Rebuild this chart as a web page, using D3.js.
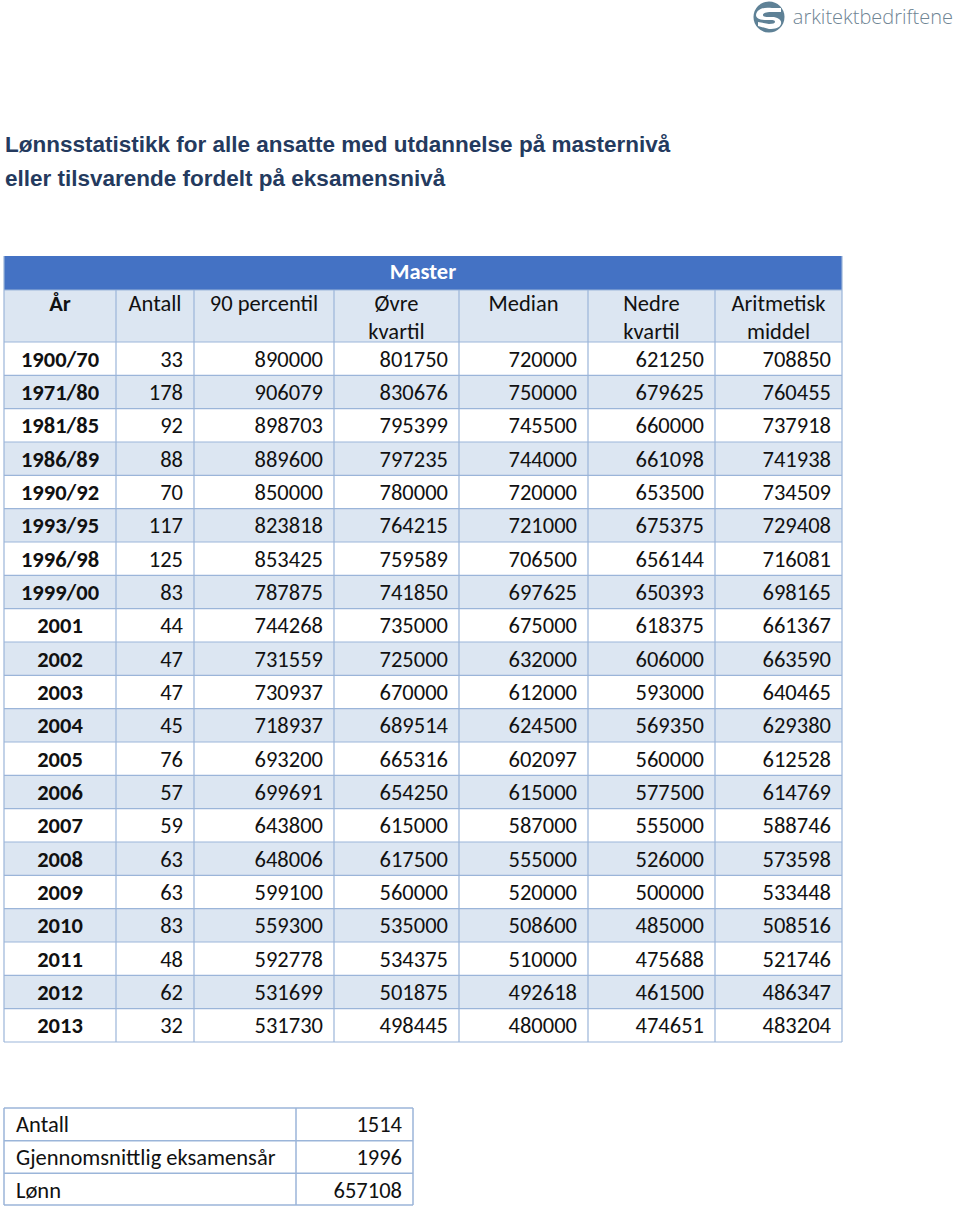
<!DOCTYPE html>
<html><head><meta charset="utf-8">
<script src="https://cdn.jsdelivr.net/npm/d3@7"></script>
<style>html,body{margin:0;padding:0;background:#fff;}svg{display:block;}</style>
</head><body>
<script>
const years = ["1900/70","1971/80","1981/85","1986/89","1990/92","1993/95","1996/98","1999/00","2001","2002","2003","2004","2005","2006","2007","2008","2009","2010","2011","2012","2013"];
const antall = [33,178,92,88,70,117,125,83,44,47,47,45,76,57,59,63,63,83,48,62,32];
const p90 = [890000,906079,898703,889600,850000,823818,853425,787875,744268,731559,730937,718937,693200,699691,643800,648006,599100,559300,592778,531699,531730];
const ovre = [801750,830676,795399,797235,780000,764215,759589,741850,735000,725000,670000,689514,665316,654250,615000,617500,560000,535000,534375,501875,498445];
const median = [720000,750000,745500,744000,720000,721000,706500,697625,675000,632000,612000,624500,602097,615000,587000,555000,520000,508600,510000,492618,480000];
const nedre = [621250,679625,660000,661098,653500,675375,656144,650393,618375,606000,593000,569350,560000,577500,555000,526000,500000,485000,475688,461500,474651];
const middel = [708850,760455,737918,741938,734509,729408,716081,698165,661367,663590,640465,629380,612528,614769,588746,573598,533448,508516,521746,486347,483204];
const headers = [["År"],["Antall"],["90 percentil"],["Øvre","kvartil"],["Median"],["Nedre","kvartil"],["Aritmetisk","middel"]];
const summaryLabels = ["Antall","Gjennomsnittlig eksamensår","Lønn"];
const summaryValues = [1514,1996,657108];

const W=960,H=1206;
const svg=d3.select("body").append("svg").attr("width",W).attr("height",H);
const border="#9bb5d9", stripe="#dce6f2", blue="#4472c4";
const FONT="Carlito, Calibri, Lato, 'Open Sans', sans-serif";
const FS=22.5;

// logo
const logo=svg.append("g").attr("transform","translate(769,17)");
logo.append("circle").attr("r",15.5).attr("fill","#5e8196");
logo.append("path").attr("d","M-13,-2 C-12,-9 -4,-10 3,-9 L12,-9 L12,-5 L2,-5 C-3,-5 -6,-4 -6,-2 C-6,0 -3,0 3,0 C9,0 13,3 12,7 C11,11 6,12 0,12 L-11,9 L-11,5 L0,7 C4,7 6,6 6,5 C6,3 4,3 -1,3 C-8,3 -13,2 -13,-2 Z").attr("fill","#fff");
svg.append("text").attr("x",953).attr("y",24).attr("text-anchor","end").attr("font-family","'Open Sans', Lato, sans-serif").attr("font-weight",300)
  .attr("font-size",20).attr("fill","#6f8594").text("arkitektbedriftene");

// title
const title=svg.append("g").attr("font-family","'Liberation Sans', Arial, sans-serif").attr("font-weight","bold").attr("font-size",22.5).attr("fill","#243a5e");
title.append("text").attr("x",5).attr("y",152).text("Lønnsstatistikk for alle ansatte med utdannelse på masternivå");
title.append("text").attr("x",5).attr("y",186).text("eller tilsvarende fordelt på eksamensnivå");

// main table
const colEdges=[4,116,194,334,459,588,715,842];
const x0=colEdges[0], x1=colEdges[colEdges.length-1];
const y=d3.scaleBand().domain(d3.range(years.length)).range([342,1042]);
const rows=years.map((yr,i)=>[yr,antall[i],p90[i],ovre[i],median[i],nedre[i],middel[i]]);

svg.append("rect").attr("x",x0).attr("y",256).attr("width",x1-x0).attr("height",34).attr("fill",blue);
svg.append("text").attr("x",(x0+x1)/2).attr("y",279).attr("text-anchor","middle").attr("font-family",FONT)
  .attr("font-weight","bold").attr("font-size",FS).attr("fill","#fff").text("Master");
svg.append("rect").attr("x",x0).attr("y",290).attr("width",x1-x0).attr("height",52).attr("fill",stripe);

const rowG=svg.selectAll("g.row").data(rows).join("g").attr("class","row");
rowG.append("rect").attr("x",x0).attr("y",(d,i)=>y(i)).attr("width",x1-x0).attr("height",y.bandwidth())
  .attr("fill",(d,i)=>i%2? stripe:"#fff");

// grid lines
const grid=svg.append("g").attr("stroke",border).attr("stroke-width",1.2).attr("fill","none");
colEdges.forEach(cx=>grid.append("line").attr("x1",cx).attr("x2",cx).attr("y1",290).attr("y2",1042));
[290,342].concat(d3.range(years.length).map(i=>y(i)+y.bandwidth())).forEach(ly=>
  grid.append("line").attr("x1",x0).attr("x2",x1).attr("y1",ly).attr("y2",ly));
grid.append("line").attr("x1",x0).attr("x2",x0).attr("y1",256).attr("y2",290);
grid.append("line").attr("x1",x1).attr("x2",x1).attr("y1",256).attr("y2",290);

// header text
headers.forEach((h,c)=>{
  const cx=(colEdges[c]+colEdges[c+1])/2;
  h.forEach((t,k)=>svg.append("text").attr("x",cx).attr("y",311+k*28).attr("text-anchor","middle")
    .attr("font-family",FONT).attr("font-size",FS).attr("font-weight",c===0?"bold":"normal").attr("fill","#111").text(t));
});

// cell text
rowG.each(function(d,i){
  const g=d3.select(this);
  d.forEach((v,c)=>{
    const first=c===0;
    g.append("text").attr("x",first?(colEdges[0]+colEdges[1])/2:colEdges[c+1]-11)
     .attr("y",y(i)+y.bandwidth()/2+8).attr("text-anchor",first?"middle":"end")
     .attr("font-family",FONT).attr("font-size",FS).attr("font-weight",first?"bold":"normal").attr("fill","#111").text(v);
  });
});

// summary table
const sy=d3.scaleBand().domain(d3.range(summaryLabels.length)).range([1108,1206]);
const sx0=4,sx1=413,sdiv=296;
const sg=svg.append("g");
summaryLabels.forEach((l,i)=>{
  sg.append("text").attr("x",sx0+12).attr("y",sy(i)+sy.bandwidth()/2+8).attr("font-family",FONT).attr("font-size",FS).attr("fill","#111").text(l);
  sg.append("text").attr("x",sx1-11).attr("y",sy(i)+sy.bandwidth()/2+8).attr("text-anchor","end").attr("font-family",FONT).attr("font-size",FS).attr("fill","#111").text(summaryValues[i]);
});
const sgrid=svg.append("g").attr("stroke",border).attr("stroke-width",1.5).attr("fill","none");
[sx0,sdiv,sx1].forEach(cx=>sgrid.append("line").attr("x1",cx).attr("x2",cx).attr("y1",1108).attr("y2",1205));
[1108].concat(d3.range(summaryLabels.length).map(i=>Math.min(sy(i)+sy.bandwidth(),1205))).forEach(ly=>
  sgrid.append("line").attr("x1",sx0).attr("x2",sx1).attr("y1",ly).attr("y2",ly));
</script>
</body></html>
